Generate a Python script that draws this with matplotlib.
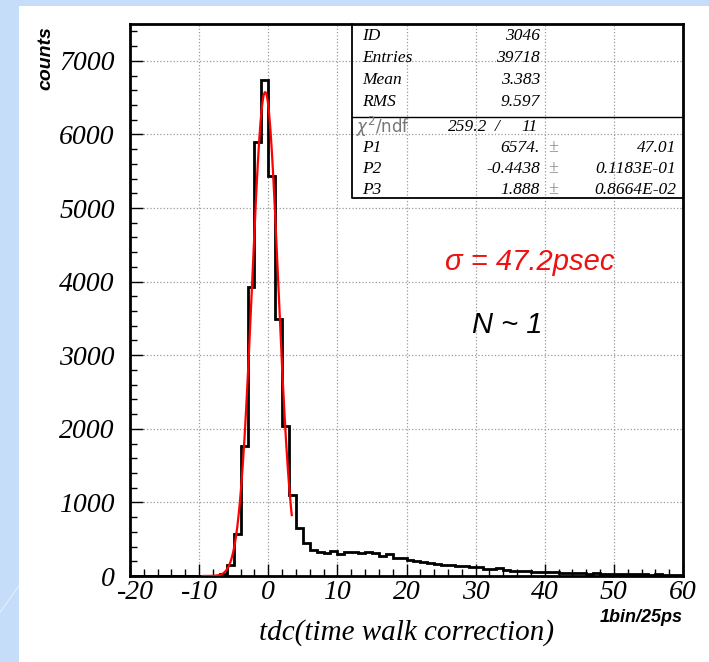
import numpy as np
import matplotlib
matplotlib.use("Agg")
import matplotlib.pyplot as plt
from matplotlib.patches import Rectangle
from matplotlib.ticker import MultipleLocator, FuncFormatter

plt.rcParams["axes.unicode_minus"] = False

# histogram: 1 unit bins from -20 to 60
bin_edges = np.arange(-20, 61, 1)
counts = [0] * 12 + [
    5, 30, 150, 565, 1765, 3930, 5900, 6735, 5435, 3490, 2040,   # -8 .. 3
    1100, 655, 455, 355, 330, 310, 340, 305, 320, 320,           # 3 .. 13
    315, 320, 310, 265, 295, 250, 240, 220, 205, 190,            # 13 .. 23
    170, 165, 155, 150, 140, 130, 120, 118, 100, 95,             # 23 .. 33
    110, 75, 70, 68, 62, 58, 55, 50, 48, 45,                     # 33 .. 43
    42, 40, 38, 30, 35, 32, 28, 30, 25, 28,                      # 43 .. 53
    22, 25, 20, 22, 18, 20, 15,                                  # 53 .. 60
]

# gaussian fit parameters printed in the stats box
p1, p2, p3 = 6574.0, -0.4438, 1.888
fit_range = (-9.5, 3.4)

stats_rows = [("ID", "3046"), ("Entries", "39718"), ("Mean", "3.383"), ("RMS", "9.597")]
fit_rows = [("P1", "6574.", "47.01"), ("P2", "-0.4438", "0.1183E-01"), ("P3", "1.888", "0.8664E-02")]

W, H = 709, 662
fig = plt.figure(figsize=(W / 100, H / 100), dpi=100)
fig.patch.set_facecolor("#c6ddf9")
# faint diagonal streaks on the blue backdrop
for x0 in (-0.05, 0.25, 0.55, 0.85):
    fig.add_artist(plt.Line2D([x0, x0 + 0.3], [0, 0.45], transform=fig.transFigure,
                              color="#e2eefc", lw=0.8, zorder=-20))
fig.patches.append(Rectangle((19 / W, 0), 1 - 19 / W, 1 - 6 / H, transform=fig.transFigure,
                             facecolor="white", edgecolor="none", zorder=-10))

ax = fig.add_axes([130 / W, (H - 576) / H, (683 - 130) / W, (576 - 24) / H])
ax.set_facecolor("white")

ax.stairs(counts, bin_edges, color="black", lw=2.0, zorder=3)
xf = np.linspace(fit_range[0], fit_range[1], 300)
ax.plot(xf, p1 * np.exp(-0.5 * ((xf - p2) / p3) ** 2), color="red", lw=1.6, zorder=4)

xmin, xmax = -20, 60
ax.set_xlim(xmin, xmax)
ax.set_ylim(0, 7500)
ax.xaxis.set_major_locator(MultipleLocator(10))
ax.xaxis.set_minor_locator(MultipleLocator(2))
ax.yaxis.set_major_locator(MultipleLocator(1000))
ax.yaxis.set_minor_locator(MultipleLocator(200))
# the leftmost x label is placed by hand, slightly right, so it clears the y "0"
ax.xaxis.set_major_formatter(FuncFormatter(lambda v, p: "" if v <= xmin else f"{v:g}"))
ax.tick_params(which="both", direction="in", top=False, right=False, width=1)
ax.tick_params(which="major", length=9)
ax.tick_params(which="minor", length=5)
ax.tick_params(axis="y", pad=11)
ax.tick_params(axis="x", pad=3)
ax.grid(True, which="major", ls=":", color="#9a9a9a", lw=0.9)
for s in ax.spines.values():
    s.set_linewidth(2)

serif = "Liberation Serif"
for lab in ax.get_xticklabels() + ax.get_yticklabels():
    lab.set_fontfamily(serif)
    lab.set_fontstyle("italic")
    lab.set_fontsize(20)
ax.annotate(f"{xmin}", xy=(xmin, 0), xycoords=("data", "axes fraction"),
            xytext=(4, -3), textcoords="offset points", ha="center", va="top",
            fontfamily=serif, fontstyle="italic", fontsize=20)

ax.set_xlabel("tdc(time walk correction)", fontfamily=serif, fontstyle="italic",
              fontsize=21, labelpad=10)
fig.text(683 / W, 1 - 617 / H, "1bin/25ps", fontfamily="Liberation Sans", fontweight="bold",
         fontstyle="italic", fontsize=13, ha="right", va="center")
fig.text(46 / W, 1 - 58 / H, "counts", fontfamily="Liberation Sans", fontweight="bold",
         fontstyle="italic", fontsize=14, rotation=90, ha="center", va="center")

# stats box
def fy(y):
    return (576 - y) / 552

def fx(x):
    return (x - 130) / 553

bx0, by0, bsep = fx(352), fy(198), fy(117)
ax.plot([bx0, bx0, 1], [1, by0, by0], transform=ax.transAxes, color="black", lw=1.3,
        clip_on=False, zorder=5)
ax.plot([bx0, 1], [bsep, bsep], transform=ax.transAxes, color="black", lw=1.0, zorder=5)

tkw = dict(transform=ax.transAxes, fontfamily=serif, fontstyle="italic", fontsize=12.5,
           va="center", zorder=6)
for i, (name, val) in enumerate(stats_rows):
    y = fy(36 + 22 * i)
    ax.text(fx(362), y, name, ha="left", **tkw)
    ax.text(fx(540), y, val, ha="right", **tkw)

ychi = fy(127)
ax.text(fx(356), ychi, r"$\chi^2$/ndf", ha="left", transform=ax.transAxes,
        fontfamily="DejaVu Sans", fontsize=12, color="#777777", va="center", zorder=6)
ax.text(fx(487), ychi, "259.2", ha="right", **tkw)
ax.text(fx(497), ychi, "/", ha="center", **tkw)
ax.text(fx(538), ychi, "11", ha="right", **tkw)

for i, (name, val, err) in enumerate(fit_rows):
    y = fy(148 + 21 * i)
    ax.text(fx(362), y, name, ha="left", **tkw)
    ax.text(fx(540), y, val, ha="right", **tkw)
    ax.text(fx(553), y, "±", ha="center", transform=ax.transAxes, fontfamily=serif,
            fontsize=13, color="#888888", va="center", zorder=6)
    ax.text(fx(676), y, err, ha="right", **tkw)

ax.text(fx(445), fy(262), "σ = 47.2psec", transform=ax.transAxes, fontfamily="Liberation Sans",
        fontstyle="italic", fontsize=21, color="#ee1111", ha="left", va="center")
ax.text(fx(472), fy(325), "N ~ 1", transform=ax.transAxes, fontfamily="Liberation Sans",
        fontstyle="italic", fontsize=21, color="black", ha="left", va="center")

fig.savefig("out.png", dpi=100)
